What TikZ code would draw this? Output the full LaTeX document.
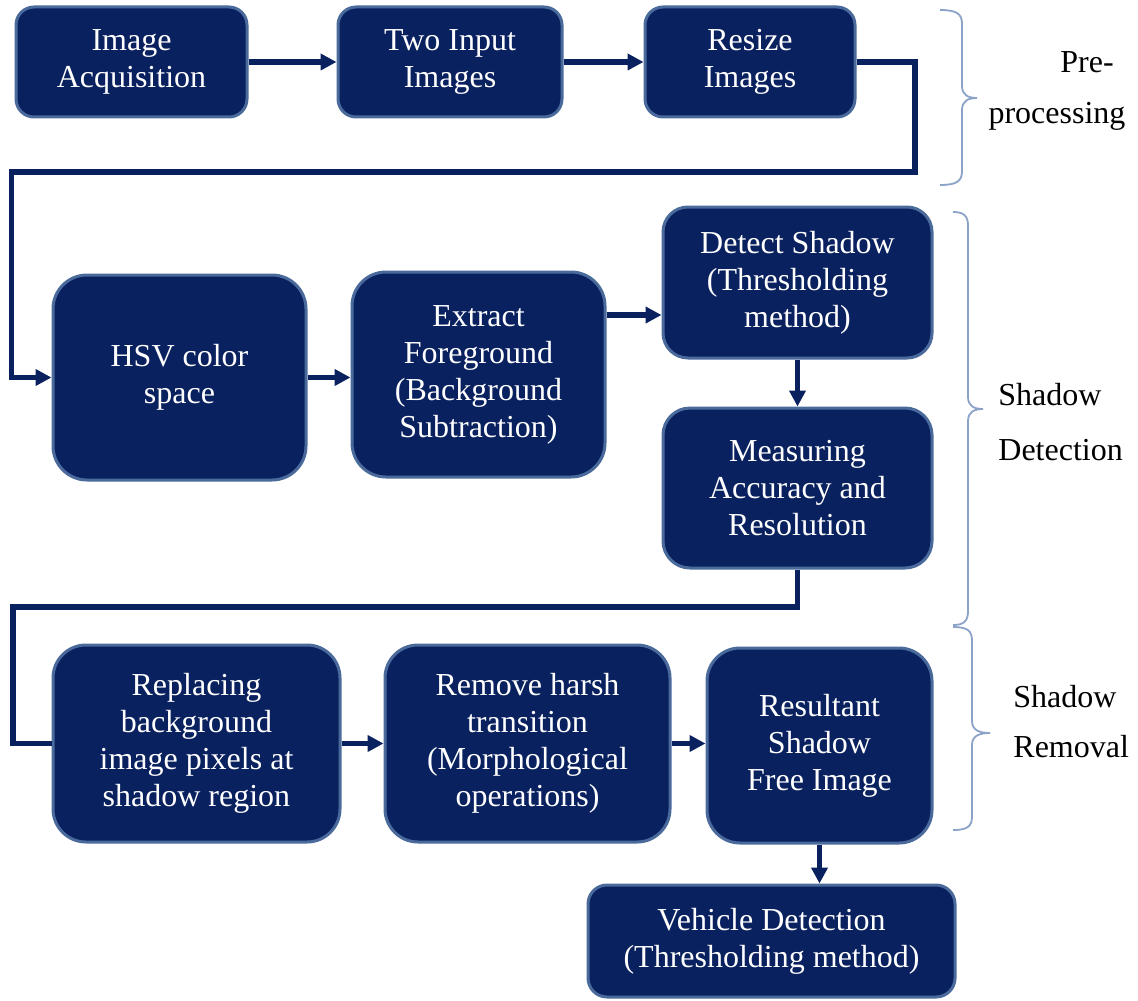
\documentclass[tikz,border=0pt]{standalone}
\usepackage{fontspec}
\setmainfont{Liberation Serif}
\usetikzlibrary{arrows.meta}
\definecolor{navy}{HTML}{0A215F}
\definecolor{boxedge}{HTML}{4A6A9C}
\definecolor{bracecol}{HTML}{8CA3C9}
\begin{document}
\begin{tikzpicture}[x=0.5pt,y=-0.5pt,
  box/.style={draw=boxedge, line width=1.5pt, fill=navy, text=white, align=center,
    inner sep=0pt, font=\fontsize{16}{18.5}\selectfont},
  arr/.style={draw=navy, line width=2.6pt, -{Triangle[length=8pt,width=8pt]}},
  ln/.style={draw=navy, line width=2.6pt},
  brc/.style={draw=bracecol, line width=0.9pt},
  lab/.style={font=\fontsize{16}{18.5}\selectfont, inner sep=0pt, text=black}]
\fill[white] (0,0) rectangle (1138,1000);
\useasboundingbox (0,0) rectangle (1138,1000);

% boxes
\node[box, rounded corners=9pt,  minimum width=115.5pt, minimum height=55pt]  (A) at (131.5,62) {Image\\Acquisition};
\node[box, rounded corners=9pt,  minimum width=112pt,   minimum height=55pt]  (B) at (450,62) {Two Input\\Images};
\node[box, rounded corners=9pt,  minimum width=105pt,   minimum height=55pt]  (C) at (750,62) {Resize\\Images};
\node[box, rounded corners=17pt, minimum width=126.5pt, minimum height=102.5pt] (D) at (179.5,377.5) {HSV color\\space};
\node[box, rounded corners=17pt, minimum width=126.5pt, minimum height=102.5pt] (E) at (478.5,374.5) {Extract\\Foreground\\(Background\\Subtraction)};
\node[box, rounded corners=12.5pt, minimum width=134.5pt, minimum height=75.5pt] (F) at (797.5,282.5) {Detect Shadow\\(Thresholding\\method)};
\node[box, rounded corners=13.5pt, minimum width=134.5pt, minimum height=80pt] (G) at (797.5,488) {Measuring\\Accuracy and\\Resolution};
\node[box, rounded corners=16.5pt, minimum width=143.5pt, minimum height=98.5pt] (H) at (196.5,743.5) {Replacing\\background\\image pixels at\\shadow region};
\node[box, rounded corners=16.5pt, minimum width=142.5pt, minimum height=98.5pt] (I) at (527.5,743.5) {Remove harsh\\transition\\(Morphological\\operations)};
\node[box, rounded corners=16.5pt, minimum width=112.5pt, minimum height=97.5pt] (J) at (819.5,745.5) {Resultant\\Shadow\\Free Image};
\node[box, rounded corners=9.5pt, minimum width=183.5pt, minimum height=56pt] (K) at (771.5,941) {Vehicle Detection\\(Thresholding method)};

% connectors
\coordinate (efy) at (0,315);
\draw[arr] (A) -- (B);
\draw[arr] (B) -- (C);
\draw[arr] (C.east) -| (915,172) -| ([xshift=-20pt]D.west) -- (D.west);
\draw[arr] (D.east) -- (D.east -| E.west);
\draw[arr] (E.east |- efy) -- (F.west |- efy);
\draw[arr] (F.south) -- (G.north);
\draw[ln]  (G.south) |- (13,607) |- (H.west);
\draw[arr] (H.east) -- (I.west);
\draw[arr] (I.east) -- (I.east -| J.west);
\draw[arr] (J.south) -- (J.south |- K.north);

% braces
\draw[brc] (940,10) .. controls (957,10) and (962,14) .. (962,24) -- (962,86)
  .. controls (962,95) and (968,98) .. (977,98)
  .. controls (968,98) and (962,101) .. (962,110) -- (962,171)
  .. controls (962,181) and (957,185) .. (940,185);
\draw[brc] (953,212) .. controls (964,212) and (968,216) .. (968,226) -- (968,397)
  .. controls (968,406) and (974,409) .. (983,409)
  .. controls (974,409) and (968,412) .. (968,421) -- (968,611)
  .. controls (968,621) and (964,625) .. (953,625);
\draw[brc] (953,627) .. controls (968,627) and (972,631) .. (972,641) -- (972,721)
  .. controls (972,730) and (979,733) .. (990,733)
  .. controls (979,733) and (972,736) .. (972,745) -- (972,816)
  .. controls (972,826) and (968,830) .. (953,830);

% labels
\node[lab] (pre1) at (1087,62) {Pre-};
\node[lab] (pre2) at (1057,116) {processing};
\node[lab, anchor=west] (sd1) at (998,395) {Shadow};
\node[lab, anchor=west] (sd2) at (998,450) {Detection};
\node[lab, anchor=west] (sr1) at (1013,697) {Shadow};
\node[lab, anchor=west] (sr2) at (1013,747) {Removal};
\end{tikzpicture}
\end{document}
